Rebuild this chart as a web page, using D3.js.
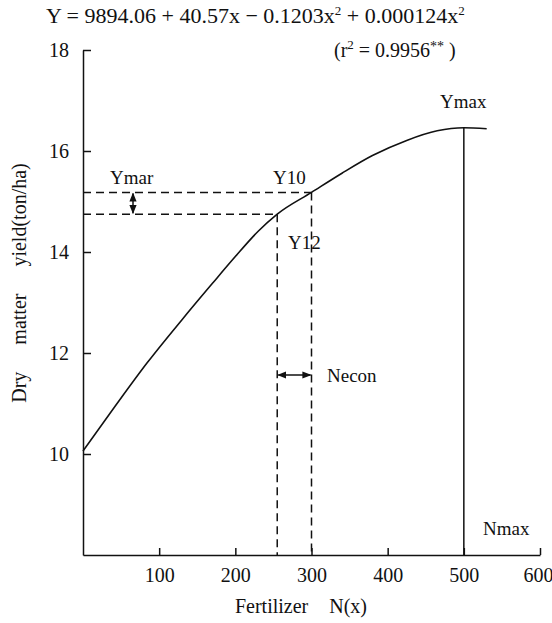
<!DOCTYPE html>
<html>
<head>
<meta charset="utf-8">
<script src="https://cdn.jsdelivr.net/npm/d3@7"></script>
<style>
  body { margin: 0; background: #fff; }
</style>
</head>
<body>
<div id="chart"></div>
<script>
// values
const nRates = [0, 40, 85, 130, 170, 200, 230, 255, 300, 340, 380, 425, 465, 500, 530];
const yields = [10.06, 10.9, 11.82, 12.66, 13.38, 13.91, 14.41, 14.75, 15.18, 15.56, 15.91, 16.21, 16.40, 16.46, 16.44];
const xTicks = [100, 200, 300, 400, 500, 600];
const yTicks = [10, 12, 14, 16, 18];
const econN = [255, 300];        // Y12, Y10 rates
const econY = [14.75, 15.18];    // Y12, Y10 yields
const nMax = 500;
const yMax = 16.46;

const width = 552;
const height = 623;
const serif = "Times New Roman, Times, Liberation Serif, Tinos, Noto Serif, DejaVu Serif, serif";

const svg = d3.select("#chart")
  .append("svg")
  .attr("width", width)
  .attr("height", height)
  .style("font-family", serif);

const x = d3.scaleLinear().domain([0, 600]).range([83, 540]);
const y = d3.scaleLinear().domain([8, 18]).range([555, 50]);

const defs = svg.append("defs");
defs.append("marker")
  .attr("id", "arr")
  .attr("viewBox", "0 0 10 10")
  .attr("refX", 9).attr("refY", 5)
  .attr("markerWidth", 6).attr("markerHeight", 6)
  .attr("orient", "auto-start-reverse")
  .append("path")
  .attr("d", "M0,1 L10,5 L0,9 Z")
  .attr("fill", "#111");

// axes
const xAxis = svg.append("g")
  .attr("transform", `translate(0,${y(8)})`)
  .call(d3.axisBottom(x).tickValues(xTicks).tickSize(-7).tickSizeOuter(0).tickPadding(13));

const yAxis = svg.append("g")
  .attr("transform", `translate(${x(0)},0)`)
  .call(d3.axisLeft(y).tickValues(yTicks).tickSize(-8).tickSizeOuter(0).tickPadding(14));

[xAxis, yAxis].forEach(g => {
  g.attr("font-family", null).attr("font-size", 20);
  g.selectAll("path, line").attr("stroke", "#111").attr("stroke-width", 1.5);
  g.selectAll("text").attr("fill", "#111").style("font-family", serif);
});
xAxis.selectAll("text").attr("dx", d => d === 600 ? -2 : 0);

// dashed guide lines
const dash = "8,5";
econN.forEach((n, i) => {
  svg.append("line")
    .attr("x1", x(0)).attr("x2", x(n))
    .attr("y1", y(econY[i])).attr("y2", y(econY[i]))
    .attr("stroke", "#111").attr("stroke-width", 1.5)
    .attr("stroke-dasharray", dash);
  svg.append("line")
    .attr("x1", x(n)).attr("x2", x(n))
    .attr("y1", y(econY[i])).attr("y2", y(8))
    .attr("stroke", "#111").attr("stroke-width", 1.5)
    .attr("stroke-dasharray", dash);
});

// Nmax vertical
svg.append("line")
  .attr("x1", x(nMax)).attr("x2", x(nMax))
  .attr("y1", y(yMax)).attr("y2", y(8))
  .attr("stroke", "#111").attr("stroke-width", 1.5);

// response curve
const line = d3.line()
  .x(d => x(d[0]))
  .y(d => y(d[1]))
  .curve(d3.curveMonotoneX);

svg.append("path")
  .datum(d3.zip(nRates, yields))
  .attr("d", line)
  .attr("fill", "none")
  .attr("stroke", "#111")
  .attr("stroke-width", 1.6);

// Ymar arrow (vertical, between the two yields)
svg.append("line")
  .attr("x1", 133).attr("x2", 133)
  .attr("y1", y(econY[1]) + 1).attr("y2", y(econY[0]) - 1)
  .attr("stroke", "#111").attr("stroke-width", 1.5)
  .attr("marker-start", "url(#arr)").attr("marker-end", "url(#arr)");

// Necon arrow (horizontal, between the two rates)
svg.append("line")
  .attr("x1", x(econN[0]) + 1).attr("x2", x(econN[1]) - 1)
  .attr("y1", 375).attr("y2", 375)
  .attr("stroke", "#111").attr("stroke-width", 1.5)
  .attr("marker-start", "url(#arr)").attr("marker-end", "url(#arr)");

// labels
function label(txt, px, py, size, anchor) {
  return svg.append("text")
    .attr("x", px).attr("y", py)
    .attr("font-size", size + "px")
    .attr("text-anchor", anchor || "start")
    .attr("fill", "#111")
    .text(txt);
}

label("Ymax", 440, 108, 19);
label("Ymar", 110, 184, 19);
label("Y10", 273, 184, 19);
label("Y12", 288, 249, 19);
label("Necon", 327, 382, 19);
label("Nmax", 483, 535, 19);

// equation
const eq = svg.append("text")
  .attr("x", 46).attr("y", 23)
  .attr("font-size", "22px").attr("fill", "#111");
eq.append("tspan").text("Y = 9894.06 + 40.57x \u2212 0.1203x");
eq.append("tspan").attr("dy", -8).attr("font-size", "13px").text("2");
eq.append("tspan").attr("dy", 8).text(" + 0.000124x");
eq.append("tspan").attr("dy", -8).attr("font-size", "13px").text("2");

const r2 = svg.append("text")
  .attr("x", 334).attr("y", 57)
  .attr("font-size", "20px").attr("fill", "#111");
r2.append("tspan").text("(r");
r2.append("tspan").attr("dy", -8).attr("font-size", "13px").text("2");
r2.append("tspan").attr("dy", 8).text(" = 0.9956");
r2.append("tspan").attr("dy", -6).attr("font-size", "14px").text("**");
r2.append("tspan").attr("dy", 6).text(" )");

// axis titles
svg.append("text")
  .attr("x", 301).attr("y", 613)
  .attr("font-size", "20px")
  .attr("text-anchor", "middle")
  .attr("word-spacing", "16px")
  .attr("fill", "#111")
  .text("Fertilizer N(x)");

svg.append("text")
  .attr("transform", "translate(26,283) rotate(-90)")
  .attr("font-size", "20px")
  .attr("text-anchor", "middle")
  .attr("word-spacing", "22px")
  .attr("fill", "#111")
  .text("Dry matter yield(ton/ha)");
</script>
</body>
</html>
